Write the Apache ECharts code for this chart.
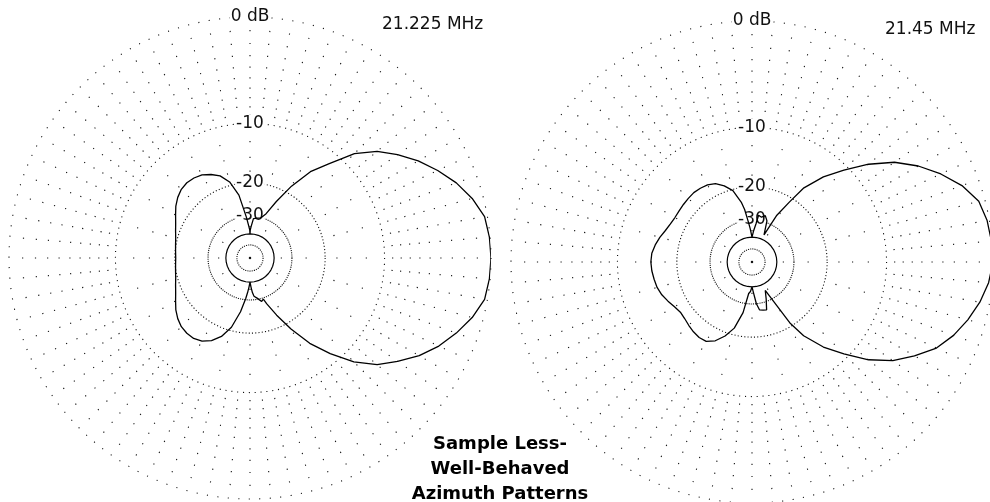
<!DOCTYPE html>
<html><head><meta charset="utf-8">
<script src="https://cdn.jsdelivr.net/npm/echarts@6/dist/echarts.min.js"></script>
<style>html,body{margin:0;padding:0;background:#fff}#c{width:990px;height:502px}</style>
</head><body><div id="c"></div>
<script>
// ---- grid definition (ARRL log-periodic dB scale) ----
const ringLevels = [0, -10, -20, -30, -50];
const labelLevels = [0, -10, -20, -30];
const labelTexts = ['0 dB', '-10', '-20', '-30'];
const rayOuterDots = [-1, -2, -3, -4, -5, -6, -7, -8, -9];
const rayMidDots = [-12.5, -15, -17.5];
const rayInnerDots = [-25, -35, -200];
const rayIntervals = [5, 15, 30];
const freqLabels = ['21.225 MHz', '21.45 MHz'];
const titleLines = ['Sample Less-', 'Well-Behaved', 'Azimuth Patterns'];

// ---- 21.225 MHz pattern (azimuth deg, dB) ----
const angL = [0,5,10,15,20,25,30,35,40,45,50,55,60,65,70,75,80,85,88,89.5,90,90.5,92,95,100,105,110,115,120,125,130,135,140,145,150,155,160,165,170,175,180,185,190,195,200,205,210,215,220,225,230,235,240,245,250,255,260,264,266,268,270,272,274,276,280,285,288,290,295,300,305,310,315,320,325,330,335,340,345,350,355,360];
const dbL = [0,-0.05,-0.2,-0.8,-1.6,-2.6,-3.7,-5.0,-6.4,-8.4,-11.5,-14.2,-18.3,-23.2,-28.0,-30.2,-30.6,-31.0,-35.0,-37.0,-39.5,-37.0,-35.0,-30.5,-22.8,-19.2,-17.4,-16.5,-15.8,-15.5,-15.4,-15.6,-16.1,-16.8,-17.7,-18.5,-19.1,-19.6,-19.9,-20.1,-20.2,-20.1,-19.9,-19.6,-19.1,-18.5,-17.7,-16.8,-16.1,-15.6,-15.4,-15.4,-15.8,-16.7,-18.2,-20.8,-25.5,-30.5,-33.3,-36.3,-39.5,-36.3,-33.3,-31.5,-30.5,-28.8,-29.5,-27.5,-23.0,-18.5,-14.4,-11.3,-8.5,-6.4,-5.0,-3.6,-2.5,-1.6,-0.8,-0.2,-0.05,0];

// ---- 21.45 MHz pattern ----
const angR = [0,5,10,15,20,25,30,35,40,45,50,55,58,62,66,70,74,78,82,84,87,90,93,95,98,100,105,110,115,120,125,130,135,140,145,150,155,160,165,170,175,180,185,190,195,200,205,210,215,220,225,230,235,240,245,250,255,260,264,267,270,273,276,279,283,287,291,295,299,302,305,310,315,320,325,330,335,340,345,350,355,360];
const dbR = [0,-0.05,-0.16,-0.45,-1.3,-2.5,-3.9,-5.6,-7.9,-10.6,-13.3,-16.8,-21.0,-26.0,-36.0,-29.3,-27.6,-28.5,-28.0,-31.5,-35.0,-39.0,-34.0,-31.0,-26.0,-23.8,-20.3,-18.7,-17.6,-17.1,-16.9,-16.8,-16.9,-17.0,-17.1,-17.1,-16.9,-16.5,-15.9,-15.4,-15.0,-14.9,-15.0,-15.2,-15.4,-15.8,-16.4,-17.0,-17.4,-17.3,-17.0,-16.7,-16.5,-16.6,-17.5,-19.2,-21.6,-26.5,-34.8,-36.0,-39.0,-35.0,-30.0,-27.5,-27.2,-27.0,-31.0,-35.0,-35.5,-20.6,-16.9,-13.3,-10.6,-7.9,-5.8,-4.3,-2.9,-2.0,-1.3,-0.7,-0.25,0];

// ---- second (low-level) trace ----
const angFloor = [0,10,20,30,40,50,60,70,80,90,100,110,120,130,140,150,160,170,180,190,200,210,220,230,240,250,260,270,280,290,300,310,320,330,340,350,360];
const dbFloorL = [-39.5,-39.5,-39.5,-39.5,-39.5,-39.5,-39.5,-39.5,-39.5,-39.5,-39.5,-39.5,-39.5,-39.5,-39.5,-39.5,-39.5,-39.5,-39.5,-39.5,-39.5,-39.5,-39.5,-39.5,-39.5,-39.5,-39.5,-39.5,-39.5,-39.5,-39.5,-39.5,-39.5,-39.5,-39.5,-39.5,-39.5];
const dbFloorR = [-39,-39,-39,-39,-39,-39,-39,-39,-39,-39,-39,-39,-39,-39,-39,-39,-39,-39,-39,-39,-39,-39,-39,-39,-39,-39,-39,-39,-39,-39,-39,-39,-39,-39,-39,-39,-39];

// ARRL scale: each 2 dB = factor 0.89 in radius
function q(db) { return Math.exp(-Math.log(0.89) / 2 * db); }
function toDb(v) { return Math.log(v) / (-Math.log(0.89) / 2); }

const layouts = [
  { center: [250, 258], R: 241, ang: angL, db: dbL, floor: dbFloorL, fx: 382, fy: 16 },
  { center: [752, 262], R: 241, ang: angR, db: dbR, floor: dbFloorR, fx: 885, fy: 21 }
];
const GRID = '#111';
const FONT = '"DejaVu Sans", sans-serif';

function rayDash(levels, R) {
  const pos = levels.map(d => R - R * q(d)).sort((a, b) => a - b);
  const arr = [0];
  let cur = 0;
  pos.forEach(p => {
    const s = Math.min(Math.max(p - 0.6, cur), R - 1.2);
    arr.push(s - cur); arr.push(1.2); cur = s + 1.2;
  });
  arr.push(R * 2);
  return arr;
}

const polar = [], angleAxis = [], radiusAxis = [], series = [], graphic = [];
const hidden = { axisLine: { show: false }, axisTick: { show: false }, axisLabel: { show: false }, splitLine: { show: false } };

layouts.forEach((L, k) => {
  // data polar
  let pi = polar.length;
  polar.push({ center: L.center, radius: L.R });
  angleAxis.push(Object.assign({ polarIndex: pi, type: 'value', min: 0, max: 360, startAngle: 0, clockwise: false }, hidden));
  radiusAxis.push(Object.assign({ polarIndex: pi, type: 'value', min: 0, max: 1 }, hidden));
  series.push({
    type: 'line', coordinateSystem: 'polar', polarIndex: pi, showSymbol: false, clip: false, z: 5,
    lineStyle: { color: '#000', width: 1.3 }, silent: true,
    data: L.ang.map((a, i) => [q(L.db[i]), a])
  });
  series.push({
    type: 'line', coordinateSystem: 'polar', polarIndex: pi, showSymbol: false, clip: false, z: 5,
    lineStyle: { color: '#000', width: 1.2 }, silent: true,
    data: angFloor.map((a, i) => [q(L.floor[i]), a])
  });
  // ring polars (+ rays)
  const rayDots = [rayOuterDots, rayMidDots, rayInnerDots];
  ringLevels.forEach((lv, j) => {
    const p = polar.length;
    polar.push({ center: L.center, radius: L.R });
    const rr = L.R * q(lv);
    const gap = Math.max(2.2, rr * 2.5 * Math.PI / 180);
    const ax = { polarIndex: p, type: 'value', min: 0, max: 360, startAngle: 90, clockwise: false,
      axisLine: { show: false }, axisTick: { show: false }, axisLabel: { show: false }, splitLine: { show: false } };
    if (j < 3) {
      ax.interval = rayIntervals[j];
      ax.splitLine = { show: true, lineStyle: { color: GRID, width: 1.1, type: rayDash(rayDots[j], L.R) } };
    }
    angleAxis.push(ax);
    radiusAxis.push({ polarIndex: p, type: 'value', min: 0, max: 1,
      axisLine: { show: false }, axisLabel: { show: false },
      axisTick: { show: false, customValues: [q(lv)] },
      splitLine: { show: true, lineStyle: { color: GRID, width: 1.1, type: [1.1, gap - 1.1] } } });
  });
  // label polar
  const lp = polar.length;
  polar.push({ center: L.center, radius: L.R });
  angleAxis.push(Object.assign({ polarIndex: lp, type: 'value', min: 0, max: 360, startAngle: 90, clockwise: false }, hidden));
  radiusAxis.push({ polarIndex: lp, type: 'value', min: 0, max: 1, z: 3,
    axisLine: { show: false }, axisTick: { show: false }, splitLine: { show: false },
    axisLabel: { show: true, customValues: labelLevels.map(q), margin: 0, rotate: 0,
      align: 'center', verticalAlign: 'middle', backgroundColor: '#fff', padding: [0, 1],
      fontFamily: FONT, fontSize: 17, color: '#111',
      formatter: v => { const d = toDb(v); let bi = 0; labelLevels.forEach((l, i) => { if (Math.abs(l - d) < Math.abs(labelLevels[bi] - d)) bi = i; }); return labelTexts[bi]; } } });
  graphic.push({ type: 'text', x: L.fx, y: L.fy, z: 10,
    style: { text: freqLabels[k], fontFamily: FONT, fontSize: 17, fill: '#111', verticalAlign: 'top', textVerticalAlign: 'top' } });
});

graphic.push({ type: 'text', x: 500, y: 432, z: 10,
  style: { text: titleLines.join('\n'), fontFamily: FONT, fontSize: 18, fontWeight: 'bold', lineHeight: 25,
    fill: '#000', align: 'center', textAlign: 'center', verticalAlign: 'top', textVerticalAlign: 'top' } });

const chart = echarts.init(document.getElementById('c'), null, { renderer: 'canvas' });
chart.setOption({ animation: false, backgroundColor: '#fff', polar, angleAxis, radiusAxis, series, graphic });
</script></body></html>
